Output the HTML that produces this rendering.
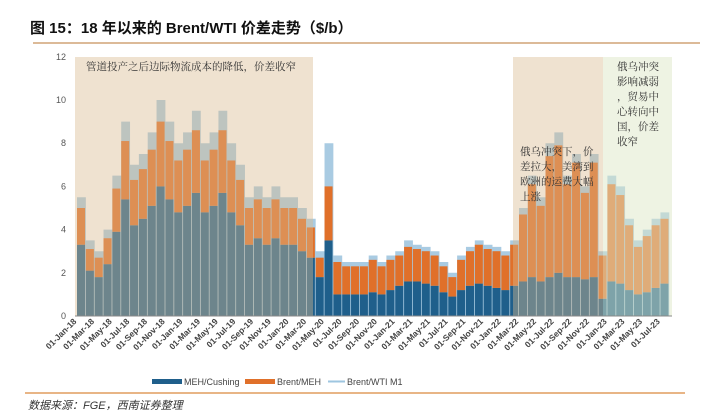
<!DOCTYPE html>
<html><head><meta charset="utf-8">
<style>
body{margin:0;background:#fff;}
#c{position:relative;width:706px;height:412px;overflow:hidden;font-family:"Liberation Sans","Noto Sans CJK SC",sans-serif;}
</style></head><body>
<div id="c">
<svg width="706" height="412" xmlns="http://www.w3.org/2000/svg">
<text x="30" y="33" font-size="15" font-weight="bold" fill="#111" font-family="Liberation Sans,Noto Sans CJK SC,sans-serif">图 15：18 年以来的 Brent/WTI 价差走势（$/b）</text>
<line x1="33" y1="43" x2="700" y2="43" stroke="#c8915a" stroke-width="1.2"/>
<g id="bg"></g>
<g id="bars"></g>
<g id="shade"></g>
<g id="axes"></g>
<g id="notes" font-family="Liberation Serif,Noto Serif CJK SC,serif" font-size="10.5" fill="#333">
<text x="86" y="70">管道投产之后边际物流成本的降低，价差收窄</text>
<text x="520" y="155"><tspan x="520">俄乌冲突下，价</tspan><tspan x="520" dy="15">差拉大，美湾到</tspan><tspan x="520" dy="15">欧洲的运费大幅</tspan><tspan x="520" dy="15">上涨</tspan></text>
<text x="617" y="70"><tspan x="617">俄乌冲突</tspan><tspan x="617" dy="15">影响减弱</tspan><tspan x="617" dy="15">，贸易中</tspan><tspan x="617" dy="15">心转向中</tspan><tspan x="617" dy="15">国，价差</tspan><tspan x="617" dy="15">收窄</tspan></text>
</g>
<g font-size="9" fill="#444">
<rect x="152" y="379" width="30" height="5" fill="#1f5f8b"/>
<text x="184" y="385">MEH/Cushing</text>
<rect x="245" y="379" width="30" height="5" fill="#e0702a"/>
<text x="277" y="385">Brent/MEH</text>
<line x1="328" y1="381.5" x2="345" y2="381.5" stroke="#9ec6e0" stroke-width="2"/>
<text x="347" y="385">Brent/WTI M1</text>
</g>
<line x1="25" y1="393" x2="685" y2="393" stroke="#d9893f" stroke-width="1.2"/>
<text x="28" y="409" font-size="11" font-style="italic" fill="#333">数据来源：FGE，西南证券整理</text>
</svg>
</div>
<script>
const months=["01-Jan-18","01-Mar-18","01-May-18","01-Jul-18","01-Sep-18","01-Nov-18","01-Jan-19","01-Mar-19","01-May-19","01-Jul-19","01-Sep-19","01-Nov-19","01-Jan-20","01-Mar-20","01-May-20","01-Jul-20","01-Sep-20","01-Nov-20","01-Jan-21","01-Mar-21","01-May-21","01-Jul-21","01-Sep-21","01-Nov-21","01-Jan-22","01-Mar-22","01-May-22","01-Jul-22","01-Sep-22","01-Nov-22","01-Jan-23","01-Mar-23","01-May-23","01-Jul-23"];
const yTicks=[0,2,4,6,8,10,12];
const brentWti=[5.5,3.5,3,4,6.5,9,7,7.5,8.5,10,9,8,8.5,9.5,8,8.5,9.5,8,7,5.5,6,5.5,6,5.5,5.5,5,4.5,3,8,2.8,2.5,2.5,2.5,2.8,2.5,2.8,3,3.5,3.3,3.2,3,2.5,2,2.8,3.2,3.5,3.3,3.2,3,3.5,5,6.5,5.5,8,8.5,6.5,7.5,6,7.5,3,6.5,6,4.5,3.5,4,4.5,4.8];
const mehCushing=[3.3,2.1,1.8,2.4,3.9,5.4,4.2,4.5,5.1,6,5.4,4.8,5.1,5.7,4.8,5.1,5.7,4.8,4.2,3.3,3.6,3.3,3.6,3.3,3.3,3,2.7,1.8,3.5,1,1,1,1,1.1,1,1.2,1.4,1.6,1.6,1.5,1.4,1.1,0.9,1.2,1.4,1.5,1.4,1.3,1.2,1.4,1.6,1.8,1.6,1.8,2,1.8,1.8,1.7,1.8,0.8,1.6,1.5,1.2,1,1.1,1.3,1.5];
const brentMeh=[1.7,1,0.9,1.2,2,2.7,2.1,2.3,2.6,3,2.7,2.4,2.6,2.9,2.4,2.6,2.9,2.4,2.1,1.7,1.8,1.7,1.8,1.7,1.7,1.5,1.4,0.9,2.5,1.5,1.3,1.3,1.3,1.5,1.3,1.4,1.4,1.6,1.5,1.5,1.4,1.2,0.9,1.4,1.6,1.8,1.7,1.7,1.6,1.9,3.1,4.3,3.5,5.6,5.9,4.3,5.3,4,5.3,2,4.5,4.1,3,2.2,2.6,2.9,3];
const NS="http://www.w3.org/2000/svg";
const x0=77,mw=8.84,yb=316,yk=21.6;
const X=i=>x0+i*mw, Y=v=>yb-v*yk;
function mk(p,t,a){const e=document.createElementNS(NS,t);for(const k in a)e.setAttribute(k,a[k]);document.getElementById(p).appendChild(e);return e;}
let r=mk('bg','rect',{x:75,y:57,width:597,height:259,fill:'#fff'});


let pts=[];
brentWti.forEach((v,i)=>{pts.push(X(i)+','+Y(v));pts.push((X(i)+mw)+','+Y(v));});
let ar=mk('bars','polygon',{points:X(0)+','+yb+' '+pts.join(' ')+' '+(X(brentWti.length-1)+mw)+','+yb,fill:'#a9cbe2'});


brentWti.forEach((v,i)=>{
 const w=mw-0.8;
 let b=mk('bars','rect',{x:X(i),y:Y(mehCushing[i]),width:w,height:mehCushing[i]*yk,fill:'#1f5f8b'});
 
 
 let o=mk('bars','rect',{x:X(i),y:Y(mehCushing[i]+brentMeh[i]),width:w,height:brentMeh[i]*yk,fill:'#e0702a'});
 
 
});
let s1=mk('shade','rect',{x:75,y:57,width:238,height:259,fill:'#d9b98e',opacity:0.42});


let s2=mk('shade','rect',{x:513,y:57,width:90,height:259,fill:'#d9b98e',opacity:0.42});


let s3=mk('shade','rect',{x:603,y:57,width:69,height:259,fill:'#dde8c8',opacity:0.5});


yTicks.forEach(v=>{
 let t=mk('axes','text',{x:66,y:Y(v)+3,'font-size':9,fill:'#555','text-anchor':'end'});
 t.textContent=v;
 
 
});
let ax=mk('axes','line',{x1:75,y1:yb,x2:672,y2:yb,stroke:'#888','stroke-width':1});


months.forEach((m,i)=>{
 const x=X(i*2);
 let t=mk('axes','text',{x:x,y:322,'font-size':8.5,'font-weight':'bold',fill:'#444','text-anchor':'end',transform:`rotate(-45 ${x} 322)`});
 t.textContent=m;
 
 
});
</script>
</body></html>
